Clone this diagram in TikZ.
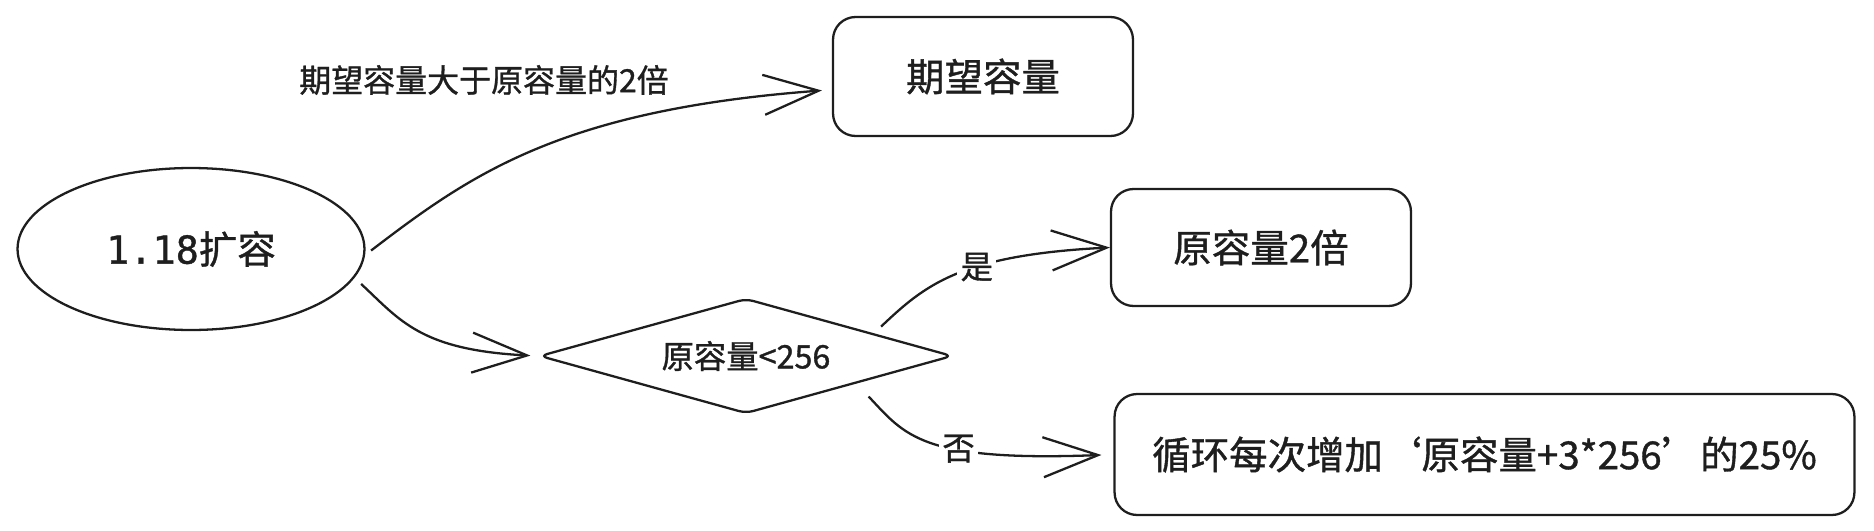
\documentclass[tikz,border=0pt]{standalone}
\usepackage{fontspec}
\setmainfont{Noto Sans CJK SC}[FakeBold=1]
\newfontfamily\digitfont{DejaVu Sans Mono}[FakeBold=1]
\definecolor{inkgray}{RGB}{30, 30, 30}
\usetikzlibrary{shapes.geometric, arrows.meta}

\begin{document}
\begin{tikzpicture}[x=0.02cm, y=-0.02cm, line width=1.3pt, color=inkgray,
  bigtext/.style={font=\fontsize{21.9}{26}\selectfont},
  smalltext/.style={font=\fontsize{18.4}{22}\selectfont},
  roundbox/.style={draw, rounded corners=0.45cm, inner sep=0pt, minimum height=2.38cm, bigtext},
  flow/.style={-{Straight Barb[length=11mm, width=8mm]}},
  edgelabel/.style={fill=white, inner sep=2pt, smalltext}]
  \useasboundingbox (0, 0) rectangle (1874, 531);

  % start
  \node[draw, ellipse, minimum width=6.94cm, minimum height=3.24cm, inner sep=0pt, bigtext] (start) at (191, 249) {{\digitfont 1.18}扩容};

  % targets
  \node[roundbox, minimum width=6cm] (want) at (983, 76.5) {期望容量};
  \node[roundbox, minimum width=6cm, minimum height=2.34cm] (double) at (1261, 247.5) {原容量2倍};
  \node[roundbox, minimum width=14.8cm, minimum height=2.42cm] (loop) at (1484.5, 454.5) {循环每次增加‘原容量+3*256’的25\%};

  % check
  \node[draw, diamond, aspect=3.59, minimum width=8.26cm, minimum height=2.3cm, inner sep=0pt, rounded corners=0.15cm, smalltext] (cmp) at (746, 356) {原容量<256};

  % condition text
  \node[font=\fontsize{18.2}{22}\selectfont] (cond) at (484, 80) {期望容量大于原容量的2倍};

  % arrows
  \draw[flow, shorten <=1.5mm, shorten >=2mm] (start.-2) .. controls (470, 175) and (560, 110) .. (want.185);
  \draw[flow, shorten <=1.8mm, shorten >=1.6mm] (start.-10) .. controls (400, 320) and (420, 350) .. (cmp.west);
  \draw[flow, shorten <=2mm] (cmp.10) .. controls (925, 285) and (960, 255) .. (double.west) node[edgelabel, pos=0.6] (yes) {是};
  \draw[flow, shorten <=3.6mm, shorten >=2.4mm] (cmp.-14) .. controls (905, 435) and (920, 462) .. (loop.west) node[edgelabel, pos=0.62] (no) {否};
\end{tikzpicture}
\end{document}
